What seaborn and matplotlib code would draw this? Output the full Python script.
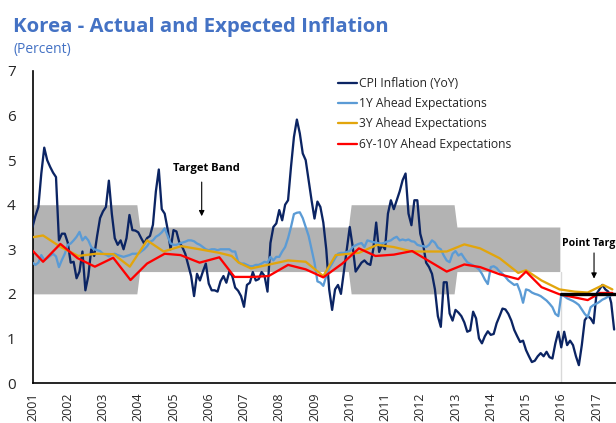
import numpy as np
import pandas as pd
import matplotlib
matplotlib.use("Agg")
import matplotlib.pyplot as plt
import seaborn as sns

# ---------------- data ----------------
years = list(range(2001, 2018))

cpi = [3.5, 3.75, 3.95, 4.7, 5.28, 5.0, 4.85, 4.72, 4.62, 3.2, 3.35, 3.35,
       3.15, 2.7, 2.72, 2.35, 2.5, 2.95, 2.08, 2.4, 3.0, 2.85, 3.3, 3.7,
       3.85, 3.95, 4.54, 3.8, 3.25, 3.1, 3.2, 3.0, 3.25, 3.77, 3.43, 3.42,
       3.38, 3.25, 3.13, 3.25, 3.3, 3.55, 4.3, 4.79, 3.9, 3.8, 3.45, 3.0,
       3.43, 3.4, 3.15, 3.05, 2.9, 2.65, 2.4, 1.95, 2.45, 2.3, 2.5, 2.68,
       2.23, 2.08, 2.08, 2.05, 2.28, 2.4, 2.25, 2.5, 2.4, 2.14, 2.07, 1.95,
       1.71, 2.2, 2.25, 2.49, 2.3, 2.33, 2.49, 2.4, 2.05, 3.14, 3.5, 3.58,
       3.88, 3.65, 4.0, 4.1, 4.85, 5.52, 5.91, 5.6, 5.15, 5.0, 4.55, 4.1,
       3.69, 4.07, 3.95, 3.6, 3.0, 2.1, 1.64, 2.1, 2.2, 2.0, 2.5, 3.0,
       3.5, 3.06, 2.5, 2.6, 2.7, 2.75, 2.68, 2.65, 3.0, 3.6, 2.94, 3.1,
       3.0, 3.8, 4.1, 3.9, 4.1, 4.3, 4.55, 4.7, 3.8, 3.54, 4.1, 4.1,
       3.35, 3.1, 2.7, 2.6, 2.45, 2.1, 1.5, 1.26, 2.26, 2.26, 1.56, 1.4,
       1.64, 1.58, 1.5, 1.36, 1.15, 1.18, 1.6, 1.45, 1.0, 0.89, 1.05, 1.16,
       1.08, 1.1, 1.34, 1.5, 1.67, 1.65, 1.55, 1.4, 1.19, 1.05, 0.92, 0.95,
       0.74, 0.6, 0.47, 0.5, 0.6, 0.67, 0.6, 0.7, 0.58, 0.55, 0.89, 1.15,
       0.8, 1.15, 0.85, 0.95, 0.85, 0.6, 0.4, 0.85, 1.41, 1.5, 1.45, 1.34,
       2.0, 2.1, 2.2, 2.1, 2.05, 1.8, 1.2]

exp_1y = [2.7, 2.65, 2.7, 2.87, 2.76, 2.8, 2.85, 2.9, 2.84, 2.6, 2.76, 2.9,
          3.1, 3.13, 3.2, 3.28, 3.39, 3.2, 3.28, 3.2, 3.05, 3.0, 2.98, 2.96,
          2.9, 2.88, 2.84, 2.88, 2.9, 2.87, 2.85, 2.83, 2.85, 2.87, 2.9, 2.9,
          2.9, 2.95, 3.0, 3.07, 3.17, 3.2, 3.28, 3.32, 3.38, 3.47, 3.3, 3.13,
          3.1, 3.1, 3.13, 3.15, 3.17, 3.2, 3.2, 3.18, 3.13, 3.1, 3.05, 3.0,
          2.98, 3.0, 3.0, 2.98, 3.0, 3.0, 3.0, 3.0, 2.95, 2.95, 2.72, 2.68,
          2.68, 2.65, 2.62, 2.62, 2.65, 2.65, 2.68, 2.72, 2.7, 2.83, 2.75, 2.83,
          2.83, 2.95, 3.05, 3.25, 3.5, 3.79, 3.82, 3.83, 3.7, 3.5, 3.3, 3.0,
          2.7, 2.28, 2.25, 2.18, 2.4, 2.57, 2.68, 2.8, 2.9, 2.92, 2.92, 2.94,
          2.96, 3.05, 3.09, 3.12, 3.14, 3.05, 3.2, 3.18, 3.16, 3.15, 3.13, 3.13,
          3.15, 3.18, 3.2, 3.25, 3.28, 3.2, 3.22, 3.2, 3.22, 3.18, 3.17, 3.1,
          3.08, 3.07, 3.05, 3.1, 3.2, 3.15, 3.04, 3.0, 2.86, 2.75, 2.71, 2.9,
          2.96, 2.86, 2.9, 2.8, 2.71, 2.67, 2.64, 2.6, 2.55, 2.45, 2.32, 2.22,
          2.6, 2.62, 2.58, 2.5, 2.45, 2.38, 2.3, 2.25, 2.2, 2.22, 2.05, 1.8,
          2.1, 2.08, 2.03, 2.0, 1.98, 1.95, 1.9, 1.85, 1.78, 1.7, 1.55, 1.5,
          1.98, 1.95, 1.9, 1.87, 1.84, 1.8, 1.75, 1.65, 1.55, 1.48, 1.7, 1.75,
          1.78, 1.82, 1.87, 1.9, 1.94, 1.97, 2.0]

exp_3y_dates = [2001.0, 2001.3, 2001.8, 2002.3, 2002.8, 2003.3, 2003.76, 2004.25,
                2004.72, 2005.22, 2005.74, 2006.3, 2006.65, 2006.85, 2007.2, 2007.67,
                2008.25, 2008.75, 2009.25, 2009.6, 2010.26, 2010.78, 2011.25, 2011.77,
                2012.75, 2013.25, 2013.7, 2014.25, 2014.78, 2015.0, 2015.44, 2015.95,
                2016.38, 2016.75, 2017.19, 2017.45]
exp_3y = [3.27, 3.31, 3.05, 2.85, 2.9, 2.89, 2.61, 3.2,
          2.95, 3.07, 3.0, 2.92, 2.85, 2.7, 2.57, 2.65,
          2.75, 2.72, 2.4, 2.87, 2.92, 3.1, 3.05, 2.95,
          2.95, 3.11, 3.02, 2.8, 2.47, 2.53, 2.3, 2.1,
          2.05, 2.03, 2.2, 2.1]

exp_6y_dates = [2001.0, 2001.3, 2001.79, 2002.28, 2002.77, 2003.29, 2003.78, 2004.25,
                2004.75, 2005.2, 2005.74, 2006.3, 2006.73, 2007.25, 2007.7, 2008.25,
                2008.75, 2009.25, 2009.79, 2010.26, 2010.73, 2011.25, 2011.77, 2012.75,
                2013.25, 2013.7, 2014.25, 2014.78, 2015.0, 2015.44, 2015.95, 2016.75,
                2017.1, 2017.45]
exp_6y = [2.97, 2.72, 3.12, 2.8, 2.61, 2.81, 2.31, 2.68,
          2.9, 2.87, 2.7, 2.82, 2.38, 2.38, 2.4, 2.65,
          2.55, 2.37, 2.68, 3.02, 2.85, 2.88, 2.96, 2.5,
          2.66, 2.6, 2.44, 2.33, 2.5, 2.15, 1.99, 1.86,
          2.02, 2.02]

band_dates = [2001.0, 2003.96, 2004.04, 2009.96, 2010.04, 2012.96, 2013.04, 2015.96]
band_low = [2.0, 2.0, 2.5, 2.5, 2.0, 2.0, 2.5, 2.5]
band_high = [4.0, 4.0, 3.5, 3.5, 4.0, 4.0, 3.5, 3.5]

point_dates = [2016.0, 2018.0]
point_target = [2.0, 2.0]

series_names = ["CPI Inflation (YoY)", "1Y Ahead Expectations",
                "3Y Ahead Expectations", "6Y-10Y Ahead Expectations"]
colors = ["#0b2463", "#5b9bd5", "#e2a50c", "#ff0000"]

# ---------------- frames ----------------
df_cpi = pd.DataFrame({"date": 2001 + np.arange(len(cpi)) / 12.0, "value": cpi})
df_1y = pd.DataFrame({"date": 2001 + np.arange(len(exp_1y)) / 12.0, "value": exp_1y})
df_3y = pd.DataFrame({"date": exp_3y_dates, "value": exp_3y})
df_6y = pd.DataFrame({"date": exp_6y_dates, "value": exp_6y})

# ---------------- style ----------------
sns.set_style("white")
plt.rcParams["font.family"] = ["Open Sans", "DejaVu Sans"]

fig = plt.figure(figsize=(6.16, 4.23), dpi=100)
ax = fig.add_axes([32.5 / 616, 1 - 383 / 423, 17 * 35.25 / 616, 312 / 423])

ax.fill_between(band_dates, band_low, band_high, color="#b3b3b3", lw=0, zorder=1)
ax.axvline(band_dates[-1] + 0.04, ymin=0, ymax=band_low[-1] / 7.0, color="#d9d9d9", lw=1, zorder=1)

lw = 1.65
for df, name, c in zip([df_cpi, df_1y, df_3y, df_6y], series_names, colors):
    sns.lineplot(data=df, x="date", y="value", color=c, lw=lw, label=name, ax=ax, zorder=3)

sns.lineplot(x=point_dates, y=point_target, color="black", lw=2.4, ax=ax, zorder=4, legend=False)

ax.set_xlim(2001, 2018)
ax.set_ylim(0, 7)
ax.set_xticks(years)
ax.set_xticklabels([str(y) for y in years], rotation=90, fontsize=9)
ax.set_yticks(range(0, 8))
ax.set_yticklabels([str(v) for v in range(0, 8)], fontsize=11)
ax.tick_params(axis="both", direction="in", length=4, width=1, color="black")
ax.tick_params(axis="y", pad=12)
ax.tick_params(axis="x", pad=7)
ax.set_xlabel("")
ax.set_ylabel("")
for s in ["top", "right"]:
    ax.spines[s].set_visible(False)
for s in ["left", "bottom"]:
    ax.spines[s].set_color("black")
    ax.spines[s].set_linewidth(1.2)

leg = ax.legend(loc="upper left", bbox_to_anchor=(338 / 616, 1 - 77 / 423),
                bbox_transform=fig.transFigure, frameon=False, fontsize=8.7,
                handlelength=1.55, handletextpad=0.15, labelspacing=0.6,
                borderpad=0, borderaxespad=0)

# annotations
ax.annotate("", xy=(2005.80, 3.68), xytext=(2005.80, 4.57),
            arrowprops=dict(arrowstyle="-|>", color="black", lw=0.8, mutation_scale=8))
ax.text(2005.92, 4.82, "Target Band", ha="center", va="center",
        fontsize=8, fontweight="bold", color="black")
ax.annotate("", xy=(2016.93, 2.28), xytext=(2016.93, 2.98),
            arrowprops=dict(arrowstyle="-|>", color="black", lw=0.8, mutation_scale=8))
ax.text(2016.01, 3.14, "Point Target", ha="left", va="center",
        fontsize=7.6, fontweight="bold", color="black")

fig.text(13 / 616, 1 - 32 / 423, "Korea - Actual and Expected Inflation",
         fontsize=14.7, fontweight="bold", color="#4472c4", ha="left", va="baseline")
fig.text(13 / 616, 1 - 53 / 423, "(Percent)", fontsize=10, color="#4472c4",
         ha="left", va="baseline")

fig.savefig("out.png", dpi=100)
